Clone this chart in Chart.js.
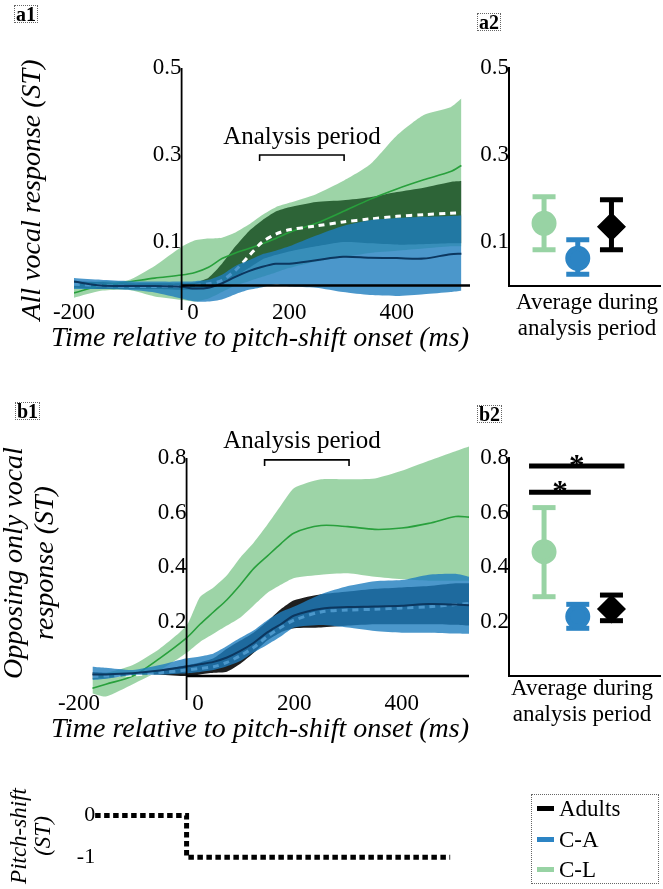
<!DOCTYPE html>
<html>
<head>
<meta charset="utf-8">
<script src="https://cdn.jsdelivr.net/npm/chart.js@4.4.1/dist/chart.umd.min.js"></script>
<style>
  html, body { margin: 0; padding: 0; background: #fff; }
  #fig { position: relative; width: 663px; height: 889px; overflow: hidden; font-family: "Liberation Serif", serif; color: #000; }
  #fig canvas { position: absolute; left: 0; top: 0; }
  .t { position: absolute; white-space: nowrap; transform: translate(-50%, -50%); line-height: 1; text-align: center; }
  .rot { transform: translate(-50%, -50%) rotate(-90deg); }
  .it { font-style: italic; }
  .tag { position: absolute; font-weight: bold; font-size: 20px; line-height: 16px; padding: 0 1px; border: 1px dotted #666; }
  .legend { position: absolute; left: 531px; top: 794px; width: 128px; height: 90px; border: 1px dotted #666; box-sizing: border-box; font-size: 23px; }
  .legend div { position: absolute; left: 5px; height: 24px; line-height: 24px; }
  .legend span { display: inline-block; width: 17px; height: 5px; vertical-align: middle; margin-right: 5px; position: relative; top: -2px; }
</style>
</head>
<body>
<div id="fig">
  <canvas id="a1" width="663" height="889"></canvas>
  <canvas id="a2" width="663" height="889"></canvas>
  <canvas id="b1" width="663" height="889"></canvas>
  <canvas id="b2" width="663" height="889"></canvas>
  <canvas id="ps" width="663" height="889"></canvas>

  <div class="tag" style="left:14px;top:5px">a1</div>
  <div class="tag" style="left:477px;top:13px">a2</div>
  <div class="tag" style="left:15px;top:402px">b1</div>
  <div class="tag" style="left:477px;top:405px">b2</div>

  <div class="t rot it" style="left:31px;top:190px;font-size:28px">All vocal response (ST)</div>
  <div class="t it" style="left:260px;top:337px;font-size:28px">Time relative to pitch-shift onset (ms)</div>
  <div class="t" style="left:302px;top:135px;font-size:25px">Analysis period</div>
  <div class="t" style="left:587px;top:315px;font-size:23px;line-height:26px">Average during<br>analysis period</div>

  <div class="t rot it" style="left:28px;top:563px;font-size:28px;line-height:31px">Opposing only vocal<br>response (ST)</div>
  <div class="t it" style="left:260px;top:728px;font-size:28px">Time relative to pitch-shift onset (ms)</div>
  <div class="t" style="left:302px;top:439px;font-size:25px">Analysis period</div>
  <div class="t" style="left:582px;top:701px;font-size:23px;line-height:26px">Average during<br>analysis period</div>

  <div class="t rot it" style="left:31px;top:836px;font-size:23px;line-height:24px">Pitch-shift<br>(ST)</div>

  <div class="legend">
    <div style="top:2px"><span style="background:#000"></span>Adults</div>
    <div style="top:33px"><span style="background:#2c84c4"></span>C-A</div>
    <div style="top:63px"><span style="background:#98d3a4"></span>C-L</div>
  </div>
</div>

<script>
// ---- data ----
const xTicks = [-200, 0, 200, 400];
const yTicksA = [0.1, 0.3, 0.5];
const yTicksB = [0.2, 0.4, 0.6, 0.8];
const analysisWindow = [145, 302];

// a1: all vocal responses (ST)
const timeA = [-200, -150, -100, -50, 0, 25, 50, 75, 100, 125, 150, 175, 200, 250, 300, 350, 400, 450, 500, 520];
const a1ClMean = [-0.017, 0.0, 0.008, 0.017, 0.024, 0.03, 0.042, 0.062, 0.075, 0.085, 0.096, 0.108, 0.122, 0.143, 0.17, 0.198, 0.222, 0.243, 0.262, 0.276];
const a1ClUpper = [0.005, 0.01, 0.012, 0.045, 0.089, 0.104, 0.108, 0.11, 0.122, 0.14, 0.162, 0.18, 0.19, 0.21, 0.24, 0.278, 0.345, 0.392, 0.41, 0.43];
const a1ClLower = [-0.028, -0.012, -0.01, -0.025, -0.033, -0.037, -0.03, -0.015, 0.0, 0.01, 0.02, 0.03, 0.04, 0.055, 0.065, 0.075, 0.08, 0.085, 0.09, 0.09];
const a1AdMean = [0.003, 0.0, -0.002, -0.002, -0.002, 0.0, 0.004, 0.012, 0.035, 0.068, 0.1, 0.118, 0.128, 0.137, 0.146, 0.153, 0.159, 0.163, 0.166, 0.167];
const a1AdUpper = [0.01, 0.008, 0.005, 0.005, 0.005, 0.007, 0.018, 0.05, 0.09, 0.125, 0.15, 0.17, 0.18, 0.192, 0.196, 0.203, 0.215, 0.225, 0.238, 0.24];
const a1AdLower = [-0.005, -0.008, -0.008, -0.008, -0.01, -0.01, -0.005, 0.005, 0.02, 0.04, 0.06, 0.07, 0.078, 0.09, 0.1, 0.097, 0.094, 0.095, 0.097, 0.097];
const a1CaMean = [0.009, 0.0, -0.001, -0.001, -0.003, -0.007, -0.005, 0.005, 0.02, 0.033, 0.043, 0.05, 0.05, 0.058, 0.066, 0.064, 0.063, 0.062, 0.072, 0.073];
const a1CaUpper = [0.017, 0.013, 0.01, 0.009, 0.009, 0.01, 0.013, 0.025, 0.045, 0.058, 0.072, 0.08, 0.09, 0.115, 0.137, 0.15, 0.155, 0.158, 0.16, 0.161];
const a1CaLower = [-0.008, -0.008, -0.01, -0.016, -0.03, -0.037, -0.037, -0.032, -0.02, -0.01, -0.004, 0.003, -0.002, -0.005, -0.015, -0.022, -0.024, -0.02, -0.015, -0.012];

// b1: opposing-only vocal responses (ST)
const timeB = [-175, -150, -100, -50, 0, 25, 50, 75, 100, 125, 150, 175, 200, 250, 300, 350, 400, 450, 500, 525];
const b1ClMean = [-0.045, -0.03, 0.0, 0.065, 0.14, 0.19, 0.235, 0.28, 0.335, 0.395, 0.44, 0.485, 0.525, 0.552, 0.548, 0.538, 0.543, 0.56, 0.585, 0.583];
const b1ClUpper = [0.0, 0.01, 0.04, 0.1, 0.185, 0.29, 0.325, 0.37, 0.435, 0.49, 0.555, 0.625, 0.69, 0.722, 0.722, 0.725, 0.753, 0.79, 0.825, 0.842];
const b1ClLower = [-0.064, -0.075, -0.03, 0.02, 0.085, 0.125, 0.155, 0.185, 0.215, 0.26, 0.305, 0.335, 0.36, 0.372, 0.377, 0.364, 0.355, 0.35, 0.35, 0.35];
const b1AdMean = [-0.002, 0.0, 0.004, 0.012, 0.022, 0.028, 0.034, 0.05, 0.075, 0.105, 0.145, 0.178, 0.205, 0.235, 0.242, 0.245, 0.25, 0.254, 0.262, 0.266];
const b1AdUpper = [0.015, 0.012, 0.012, 0.02, 0.04, 0.05, 0.065, 0.1, 0.13, 0.16, 0.2, 0.245, 0.278, 0.3, 0.31, 0.32, 0.325, 0.33, 0.34, 0.34];
const b1AdLower = [-0.01, -0.008, 0.004, 0.005, 0.0, 0.006, 0.012, 0.016, 0.045, 0.085, 0.13, 0.16, 0.175, 0.178, 0.185, 0.19, 0.19, 0.19, 0.188, 0.185];
const b1CaMean = [0.006, 0.006, 0.01, 0.02, 0.035, 0.043, 0.052, 0.068, 0.092, 0.122, 0.16, 0.19, 0.222, 0.247, 0.253, 0.255, 0.258, 0.264, 0.262, 0.26];
const b1CaUpper = [0.034, 0.03, 0.022, 0.04, 0.065, 0.072, 0.083, 0.11, 0.14, 0.168, 0.205, 0.235, 0.255, 0.3, 0.33, 0.348, 0.352, 0.372, 0.375, 0.364];
const b1CaLower = [-0.015, -0.01, 0.004, 0.005, 0.01, 0.015, 0.022, 0.036, 0.055, 0.087, 0.115, 0.145, 0.178, 0.187, 0.178, 0.165, 0.159, 0.159, 0.156, 0.155];

// a2 / b2: average during analysis period (order: C-L, C-A, Adults)
const groups = ['C-L', 'C-A', 'Adults'];
const a2Mean = [0.143, 0.0625, 0.135];
const a2Low = [0.082, 0.026, 0.082];
const a2High = [0.204, 0.105, 0.197];
const b2Mean = [0.456, 0.218, 0.246];
const b2Low = [0.291, 0.175, 0.203];
const b2High = [0.618, 0.263, 0.297];
const sigPairs = [[0, 1], [0, 2]];
const sigLevels = [0.674, 0.771];

// pitch-shift stimulus
const pitchTime = [-170, 0, 0, 490];
const pitchShift = [0, 0, -1, -1];

// ---- styling ----
const W = 663, H = 889;
const AD_BAND = 'rgba(0,0,0,0.88)';
const CL_BAND = 'rgba(60,170,80,0.5)';
const CA_BAND = 'rgba(30,125,190,0.8)';
const CL_LINE = 'rgb(40,160,60)';
const CA_LINE = 'rgb(12,55,95)';
const groupColors = ['#98d3a4', '#2c84c4', '#000000'];
const groupMarkers = ['circle', 'circle', 'rectRot'];

Chart.defaults.font.family = '"Liberation Serif", serif';
Chart.defaults.color = '#000';

function area(l, t, r, b) {
  return { autoPadding: false, padding: { left: l, top: t, right: W - r, bottom: H - b } };
}
function pts(xs, ys) {
  return xs.map((x, i) => ({ x, y: ys[i] }));
}
function band(label, xs, hi, lo, color, order) {
  const common = { borderColor: 'rgba(0,0,0,0)', borderWidth: 0, pointRadius: 0, tension: 0.2, order };
  return [
    { label: label + ' upper', data: pts(xs, hi), fill: '+1', backgroundColor: color, ...common },
    { label: label + ' lower', data: pts(xs, lo), fill: false, ...common },
  ];
}
function meanLine(label, xs, ys, color, width, dash, order) {
  return { label, data: pts(xs, ys), fill: false, borderColor: color, borderWidth: width, borderDash: dash, pointRadius: 0, tension: 0.3, order };
}

// y axis line (up to its top tick), zero line from the y axis rightwards, analysis-period bracket
function decor(axisTop, bracketAt) {
  return {
    id: 'decor',
    afterDatasetsDraw(chart) {
      const { ctx, chartArea, scales: { x, y } } = chart;
      const x0 = x.getPixelForValue(0);
      const y0 = y.getPixelForValue(0);
      ctx.save();
      ctx.strokeStyle = '#000';
      ctx.lineWidth = 2.5;
      ctx.beginPath();
      ctx.moveTo(x0, y0);
      ctx.lineTo(chartArea.right, y0);
      ctx.stroke();
      ctx.lineWidth = 1.8;
      ctx.beginPath();
      ctx.moveTo(x0, y.getPixelForValue(axisTop));
      ctx.lineTo(x0, chartArea.bottom);
      ctx.stroke();
      const by = y.getPixelForValue(bracketAt);
      const bx0 = x.getPixelForValue(analysisWindow[0]);
      const bx1 = x.getPixelForValue(analysisWindow[1]);
      ctx.lineWidth = 1.6;
      ctx.beginPath();
      ctx.moveTo(bx0, by + 6);
      ctx.lineTo(bx0, by);
      ctx.lineTo(bx1, by);
      ctx.lineTo(bx1, by + 6);
      ctx.stroke();
      ctx.restore();
    }
  };
}

function timeChart(id, box, t, xMax, yMin, yMax, yTicks, cl, ad, ca, bracketAt) {
  return new Chart(document.getElementById(id), {
    type: 'line',
    data: {
      datasets: [
        ...band('Adults', t, ad[1], ad[2], AD_BAND, 60),
        ...band('C-L', t, cl[1], cl[2], CL_BAND, 50),
        meanLine('C-L', t, cl[0], CL_LINE, 1.6, [], 40),
        meanLine('Adults', t, ad[0], '#ffffff', 3, [6, 5], 30),
        ...band('C-A', t, ca[1], ca[2], CA_BAND, 20),
        meanLine('C-A', t, ca[0], CA_LINE, 2, [], 10),
      ]
    },
    options: {
      responsive: false,
      animation: false,
      layout: area(...box),
      plugins: { legend: { display: false }, tooltip: { enabled: false } },
      scales: {
        x: {
          type: 'linear', min: -200, max: xMax,
          position: { y: 0 },
          grid: { display: false, drawTicks: false },
          border: { display: false },
          ticks: {
            font: { size: 23 }, padding: 14, autoSkip: false, maxRotation: 0,
            callback: v => (v === 0 ? '\u2002\u20020' : String(v))
          },
          afterBuildTicks: s => { s.ticks = xTicks.map(v => ({ value: v })); }
        },
        y: {
          type: 'linear', min: yMin, max: yMax,
          position: { x: 0 },
          grid: { display: false, drawTicks: false },
          border: { display: false },
          ticks: { font: { size: 23 }, padding: 3, callback: v => v.toFixed(1) },
          afterBuildTicks: s => { s.ticks = yTicks.map(v => ({ value: v })); }
        }
      }
    },
    plugins: [decor(yTicks[yTicks.length - 1], bracketAt)]
  });
}

function errorDatasets(mean, low, high) {
  return groups.map((g, i) => ({
    label: g,
    data: [{ x: i, y: low[i] }, { x: i, y: mean[i] }, { x: i, y: high[i] }],
    borderColor: groupColors[i],
    backgroundColor: groupColors[i],
    borderWidth: 5,
    fill: false,
    tension: 0,
    pointStyle: ['line', groupMarkers[i], 'line'],
    pointRadius: [11.5, groupMarkers[i] === 'rectRot' ? 11 : 10, 11.5],
    pointBorderWidth: 5,
    pointBackgroundColor: groupColors[i],
    pointBorderColor: groupColors[i]
  }));
}

const sigPlugin = {
  id: 'sig',
  afterDatasetsDraw(chart) {
    const { ctx, scales: { x, y } } = chart;
    ctx.save();
    ctx.strokeStyle = '#000';
    ctx.fillStyle = '#000';
    ctx.lineWidth = 5;
    ctx.font = 'bold 31px "Liberation Serif"';
    ctx.textAlign = 'center';
    sigPairs.forEach((p, k) => {
      const yy = y.getPixelForValue(sigLevels[k]);
      const x0 = x.getPixelForValue(p[0]) - 15;
      const x1 = x.getPixelForValue(p[1]) + 13;
      ctx.beginPath();
      ctx.moveTo(x0, yy);
      ctx.lineTo(x1, yy);
      ctx.stroke();
      ctx.fillText('*', (x0 + x1) / 2, yy + 10);
    });
    ctx.restore();
  }
};

function avgChart(id, box, yMax, yTicks, mean, low, high, extra) {
  return new Chart(document.getElementById(id), {
    type: 'line',
    data: { datasets: errorDatasets(mean, low, high) },
    options: {
      responsive: false,
      animation: false,
      layout: area(...box),
      plugins: { legend: { display: false }, tooltip: { enabled: false } },
      scales: {
        x: {
          type: 'linear', min: -1.04, max: 3.44,
          position: { y: 0 },
          grid: { display: false, drawTicks: false },
          border: { display: true, color: '#000', width: 2 },
          ticks: { display: false }
        },
        y: {
          type: 'linear', min: 0, max: yMax,
          position: { x: -1.04 },
          grid: { display: false, drawTicks: false },
          border: { display: true, color: '#000', width: 2 },
          ticks: { font: { size: 23 }, padding: 4, callback: v => v.toFixed(1) },
          afterBuildTicks: s => { s.ticks = yTicks.map(v => ({ value: v })); }
        }
      }
    },
    plugins: extra ? [extra] : []
  });
}

timeChart('a1', [74, 68, 470, 310], timeA, 536, -0.0563, 0.5, yTicksA,
  [a1ClMean, a1ClUpper, a1ClLower], [a1AdMean, a1AdUpper, a1AdLower], [a1CaMean, a1CaUpper, a1CaLower], 0.3);
timeChart('b1', [79, 440, 469, 700], timeB, 525, -0.088, 0.866, yTicksB,
  [b1ClMean, b1ClUpper, b1ClLower], [b1AdMean, b1AdUpper, b1AdLower], [b1CaMean, b1CaUpper, b1CaLower], 0.793);

avgChart('a2', [509, 68, 660, 285.5], 0.5, yTicksA, a2Mean, a2Low, a2High, null);
avgChart('b2', [509, 458, 660, 676], 0.8, yTicksB, b2Mean, b2Low, b2High, sigPlugin);

new Chart(document.getElementById('ps'), {
  type: 'line',
  data: {
    datasets: [{
      label: 'Pitch-shift',
      data: pts(pitchTime, pitchShift),
      borderColor: '#000',
      borderWidth: 5,
      borderDash: [5.5, 3.5],
      pointRadius: 0,
      fill: false,
      tension: 0
    }]
  },
  options: {
    responsive: false,
    animation: false,
    layout: area(79, 803, 469, 873),
    plugins: { legend: { display: false }, tooltip: { enabled: false } },
    scales: {
      x: { type: 'linear', min: -200, max: 525, display: false },
      y: {
        type: 'linear', min: -1.3, max: 0.3,
        position: { x: pitchTime[0] },
        grid: { display: false, drawTicks: false },
        border: { display: false },
        ticks: { font: { size: 22 }, padding: 6, callback: v => String(v) },
        afterBuildTicks: s => { s.ticks = [0, -1].map(v => ({ value: v })); }
      }
    }
  }
});
</script>
</body>
</html>
